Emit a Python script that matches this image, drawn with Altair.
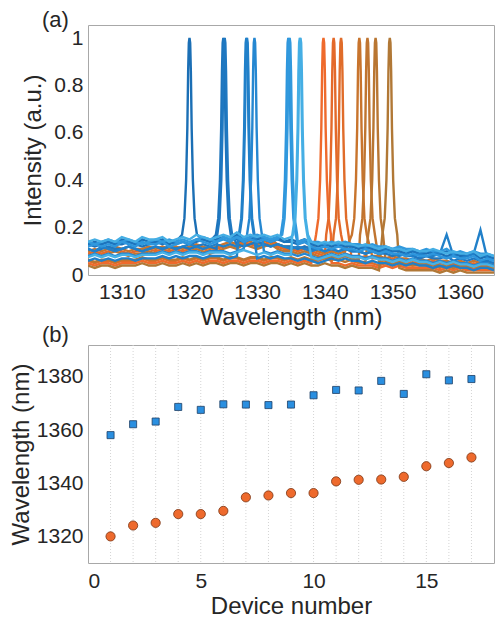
import altair as alt
import pandas as pd

FONT = "Liberation Sans"
TXT = "#262626"

# ---------------- panel (a): spectra ----------------
# baseline profiles sampled every 1 nm from 1305 to 1365 nm (read off the picture)
wl_grid = list(range(1305, 1366))
prof_A = [0.13, 0.14, 0.13, 0.14, 0.13, 0.15, 0.14, 0.13, 0.15, 0.14,
          0.14, 0.15, 0.13, 0.14, 0.15, 0.14, 0.16, 0.15, 0.14, 0.15,
          0.16, 0.15, 0.17, 0.15, 0.16, 0.15, 0.16, 0.15, 0.16, 0.14,
          0.15, 0.14, 0.15, 0.13, 0.12, 0.13, 0.12, 0.13, 0.12, 0.12,
          0.11, 0.12, 0.11, 0.10, 0.11, 0.10, 0.10, 0.09, 0.10, 0.09,
          0.09, 0.10, 0.09, 0.08, 0.09, 0.08, 0.08, 0.09, 0.07, 0.08,
          0.07]
prof_B = [0.11, 0.10, 0.12, 0.11, 0.10, 0.11, 0.12, 0.11, 0.10, 0.11,
          0.12, 0.11, 0.12, 0.11, 0.12, 0.13, 0.12, 0.11, 0.12, 0.13,
          0.12, 0.13, 0.12, 0.14, 0.13, 0.12, 0.13, 0.12, 0.13, 0.12,
          0.11, 0.12, 0.11, 0.10, 0.11, 0.10, 0.11, 0.10, 0.11, 0.10,
          0.10, 0.09, 0.10, 0.09, 0.10, 0.09, 0.08, 0.09, 0.08, 0.09,
          0.08, 0.08, 0.09, 0.17, 0.08, 0.07, 0.08, 0.09, 0.19, 0.07,
          0.06]
prof_C = [0.08, 0.09, 0.08, 0.09, 0.08, 0.09, 0.09, 0.08, 0.09, 0.09,
          0.09, 0.10, 0.09, 0.10, 0.09, 0.10, 0.10, 0.09, 0.10, 0.10,
          0.10, 0.09, 0.10, 0.11, 0.10, 0.09, 0.10, 0.09, 0.10, 0.09,
          0.09, 0.08, 0.09, 0.08, 0.07, 0.08, 0.09, 0.08, 0.09, 0.08,
          0.08, 0.07, 0.08, 0.07, 0.07, 0.06, 0.07, 0.06, 0.07, 0.06,
          0.06, 0.05, 0.06, 0.05, 0.06, 0.05, 0.05, 0.04, 0.05, 0.05,
          0.04]
prof_D = [0.05, 0.04, 0.05, 0.05, 0.04, 0.05, 0.05, 0.05, 0.06, 0.05,
          0.05, 0.06, 0.05, 0.05, 0.06, 0.05, 0.06, 0.05, 0.06, 0.06,
          0.05, 0.06, 0.06, 0.05, 0.06, 0.06, 0.05, 0.06, 0.06, 0.05,
          0.06, 0.05, 0.06, 0.05, 0.05, 0.06, 0.05, 0.05, 0.04, 0.05,
          0.04, 0.04, 0.04, 0.03, 0.04, 0.03, 0.04, 0.03, 0.03, 0.03,
          0.03, 0.03, 0.02, 0.03, 0.02, 0.03, 0.02, 0.02, 0.02, 0.02,
          0.02]
prof_E = [0.09, 0.10, 0.09, 0.10, 0.11, 0.10, 0.09, 0.10, 0.10, 0.11,
          0.10, 0.11, 0.10, 0.11, 0.10, 0.11, 0.12, 0.11, 0.10, 0.11,
          0.12, 0.13, 0.12, 0.14, 0.13, 0.12, 0.13, 0.14, 0.12, 0.11,
          0.11, 0.10, 0.11, 0.10, 0.09, 0.08, 0.09, 0.08, 0.09, 0.08,
          0.07, 0.08, 0.07, 0.07, 0.06, 0.07, 0.06, 0.06, 0.05, 0.06,
          0.05, 0.06, 0.05, 0.05, 0.04, 0.05, 0.04, 0.05, 0.04, 0.04,
          0.04]
prof_F = [0.12, 0.11, 0.12, 0.13, 0.12, 0.12, 0.13, 0.12, 0.11, 0.12,
          0.13, 0.12, 0.13, 0.12, 0.13, 0.12, 0.13, 0.14, 0.13, 0.12,
          0.14, 0.13, 0.14, 0.13, 0.14, 0.15, 0.14, 0.13, 0.14, 0.13,
          0.13, 0.12, 0.13, 0.12, 0.12, 0.11, 0.12, 0.11, 0.12, 0.11,
          0.11, 0.10, 0.11, 0.10, 0.10, 0.09, 0.10, 0.09, 0.09, 0.08,
          0.09, 0.08, 0.08, 0.09, 0.07, 0.08, 0.07, 0.08, 0.07, 0.07,
          0.06]
profiles = {"A": prof_A, "B": prof_B, "C": prof_C, "D": prof_D, "E": prof_E, "F": prof_F}

# spectra: peak wavelength, colour, baseline profile, baseline shift
spec_peak = [1339.8, 1341.3, 1342.4, 1345.1, 1346.3, 1347.5, 1349.6,
             1320.0, 1325.0, 1325.2, 1328.4, 1328.5, 1329.6, 1334.6, 1334.8, 1336.3, 1336.4]
spec_color = ["#ef6a2c", "#e4692a", "#e06c2a", "#c8742d", "#c07531", "#b97632", "#b17836",
              "#1b6fb5", "#1d74bc", "#1f78c1", "#2080c9", "#2180c9", "#2587d1",
              "#2e96dd", "#3199dd", "#48b2e6", "#45aee4"]
spec_prof = ["D", "E", "D", "E", "E", "D", "D",
             "A", "F", "F", "C", "B", "C", "A", "F", "C", "A"]
spec_shift = [0.0, 0.0, 0.01, 0.01, -0.01, 0.015, -0.01,
              0.0, 0.01, -0.01, -0.02, 0.0, 0.0, -0.01, 0.02, -0.005, 0.01]

# peak line shape (offset from peak in nm, normalised intensity)
peak_off = [-1.1, -0.75, -0.5, -0.32, -0.2, -0.1, 0.0, 0.1, 0.2, 0.32, 0.5, 0.75, 1.1]
peak_val = [0.17, 0.24, 0.40, 0.62, 0.86, 0.98, 1.00, 0.98, 0.86, 0.62, 0.40, 0.24, 0.17]

rows = []
spec_ids = []
for k, pk in enumerate(spec_peak):
    sid = f"s{k:02d}"
    spec_ids.append(sid)
    base = profiles[spec_prof[k]]
    for w, v in zip(wl_grid, base):
        if abs(w - pk) > 1.15:
            rows.append({"sid": sid, "wl": w, "I": v + spec_shift[k]})
    for o, v in zip(peak_off, peak_val):
        rows.append({"sid": sid, "wl": pk + o, "I": v})
spec_df = pd.DataFrame(rows).sort_values(["sid", "wl"])

x_ticks_a = [1310, 1320, 1330, 1340, 1350, 1360]
y_ticks_a = [0, 0.2, 0.4, 0.6, 0.8, 1.0]

W = 406

panel_a = alt.Chart(spec_df).mark_line(strokeWidth=2.4, clip=True).encode(
    x=alt.X("wl:Q", title="Wavelength (nm)",
            scale=alt.Scale(domain=[1305, 1365], nice=False, zero=False),
            axis=alt.Axis(values=x_ticks_a, format="d", labelPadding=6, titlePadding=3)),
    y=alt.Y("I:Q", title="Intensity (a.u.)",
            scale=alt.Scale(domain=[0, 1.055], nice=False),
            axis=alt.Axis(values=y_ticks_a, format=".1~f", labelPadding=5, titlePadding=8)),
    color=alt.Color("sid:N", scale=alt.Scale(domain=spec_ids, range=spec_color), legend=None),
    order=alt.Order("wl:Q"),
).properties(
    width=W, height=250,
    title=alt.TitleParams("(a)", anchor="start", frame="group", dx=-46, dy=7, offset=0,
                          fontSize=22, font=FONT, fontWeight="normal", color=TXT),
)

# ---------------- panel (b): device wavelengths ----------------
devices = list(range(1, 18))
lam_short = [1320.0, 1324.1, 1325.1, 1328.4, 1328.4, 1329.6, 1334.7, 1335.4, 1336.3,
             1336.3, 1340.7, 1341.3, 1341.4, 1342.4, 1346.4, 1347.6, 1349.7]
lam_long = [1358.1, 1362.2, 1363.2, 1368.7, 1367.6, 1369.7, 1369.6, 1369.4, 1369.6,
            1373.1, 1375.1, 1374.9, 1378.5, 1373.6, 1381.0, 1378.7, 1379.2]
dev_df = pd.DataFrame({"dev": devices, "short": lam_short, "long": lam_long})

x_scale_b = alt.Scale(domain=[0, 18], nice=False)
y_scale_b = alt.Scale(domain=[1310, 1392], nice=False, zero=False)

grid_b = alt.Chart(dev_df).mark_rule(color="#d4d4d4", strokeWidth=1, strokeDash=[1, 2]).encode(
    x=alt.X("dev:Q", scale=x_scale_b, title="Device number",
            axis=alt.Axis(values=[0, 5, 10, 15], format="d", labelPadding=7, titlePadding=3)),
)
squares = alt.Chart(dev_df).mark_point(shape="square", filled=True, size=50, color="#2a8fe0",
                                       stroke="#1d3f66", strokeWidth=0.8, opacity=1).encode(
    x=alt.X("dev:Q", scale=x_scale_b),
    y=alt.Y("long:Q", scale=y_scale_b, title="Wavelength (nm)",
            axis=alt.Axis(values=[1320, 1340, 1360, 1380], format="d",
                          labelPadding=5, titlePadding=3)),
)
circles = alt.Chart(dev_df).mark_circle(size=85, color="#ee6a2d", stroke="#7a3412",
                                        strokeWidth=0.8, opacity=1).encode(
    x=alt.X("dev:Q", scale=x_scale_b),
    y=alt.Y("short:Q", scale=y_scale_b),
)
panel_b = alt.layer(grid_b, squares, circles).properties(
    width=W, height=218,
    title=alt.TitleParams("(b)", anchor="start", frame="group", dx=-46, dy=2, offset=0,
                          fontSize=22, font=FONT, fontWeight="normal", color=TXT),
)

chart = alt.vconcat(panel_a, panel_b, spacing=70, bounds="flush").properties(
    padding={"left": 0, "top": 0, "right": 0, "bottom": 0},
).configure_view(
    stroke="#a8a8a8", strokeWidth=1,
).configure_axis(
    domain=False, ticks=False, tickSize=0, grid=False,
    labelFont=FONT, titleFont=FONT, labelFontSize=21, titleFontSize=24,
    labelColor=TXT, titleColor=TXT, titleFontWeight="normal",
).configure_title(font=FONT)

chart.save("out.html", embed_options={"renderer": "svg", "actions": False})
